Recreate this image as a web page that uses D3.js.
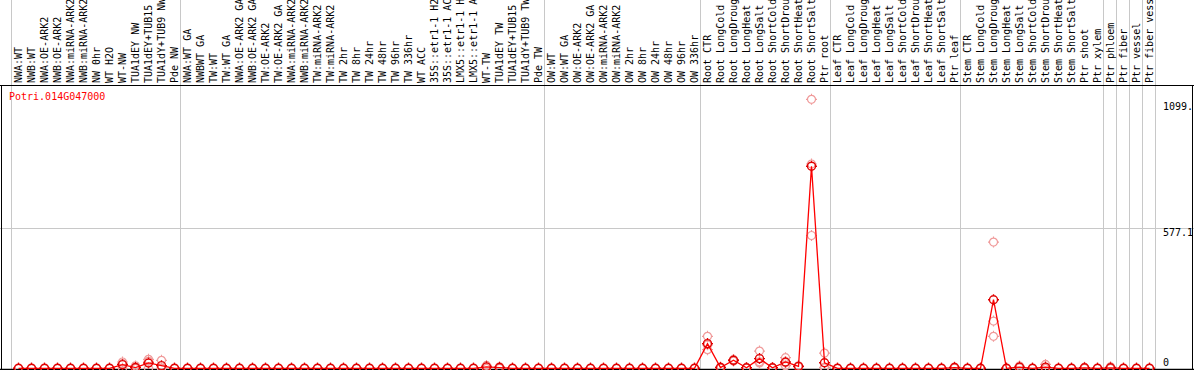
<!DOCTYPE html>
<html>
<head>
<meta charset="utf-8">
<script src="https://cdn.jsdelivr.net/npm/d3@7"></script>
<style>
  body { margin: 0; background: #fff; }
  svg { display: block; font-family: "DejaVu Sans Mono", monospace; }
</style>
</head>
<body>
<div id="plot"></div>
<script>
const geneId = "Potri.014G047000";

const labels = [
  "NWA:WT", "NWB:WT", "NWA:OE-ARK2", "NWB:OE-ARK2", "NWA:miRNA-ARK2", "NWB:miRNA-ARK2",
  "NW 0hr", "WT H2O", "WT-NW", "TUA1dEY NW", "TUA1dEY+TUB15 NW", "TUA1dY+TUB9 NW", "Pde NW",
  "NWA:WT GA", "NWBWT GA", "TW:WT", "TW:WT GA", "NWA:OE-ARK2 GA", "NWB:OE-ARK2 GA",
  "TW:OE-ARK2", "TW:OE-ARK2 GA", "NWA:miRNA-ARK2 GA", "NWB:miRNA-ARK2 GA", "TW:miRNA-ARK2",
  "TW:miRNA-ARK2 GA", "TW 2hr", "TW 8hr", "TW 24hr", "TW 48hr", "TW 96hr", "TW 336hr",
  "WT ACC", "35S::etr1-1 H2O", "35S::etr1-1 ACC", "LMX5::etr1-1 H2O", "LMX5::etr1-1 ACC",
  "WT-TW", "TUA1dEY TW", "TUA1dEY+TUB15 TW", "TUA1dY+TUB9 TW", "Pde TW",
  "OW:WT", "OW:WT GA", "OW:OE-ARK2", "OW:OE-ARK2 GA", "OW:miRNA-ARK2", "OW:miRNA-ARK2 GA",
  "OW 2hr", "OW 8hr", "OW 24hr", "OW 48hr", "OW 96hr", "OW 336hr",
  "Root CTR", "Root LongCold", "Root LongDrought", "Root LongHeat", "Root LongSalt",
  "Root ShortCold", "Root ShortDrought", "Root ShortHeat", "Root ShortSalt", "Ptr root",
  "Leaf CTR", "Leaf LongCold", "Leaf LongDrought", "Leaf LongHeat", "Leaf LongSalt",
  "Leaf ShortCold", "Leaf ShortDrought", "Leaf ShortHeat", "Leaf ShortSalt", "Ptr leaf",
  "Stem CTR", "Stem LongCold", "Stem LongDrought", "Stem LongHeat", "Stem LongSalt",
  "Stem ShortCold", "Stem ShortDrought", "Stem ShortHeat", "Stem ShortSalt", "Ptr shoot",
  "Ptr xylem", "Ptr phloem", "Ptr fiber", "Ptr vessel", "Ptr fiber vessel"
];

// number of samples in each block between the grey separators
const groupSizes = [13, 28, 12, 10, 10, 11, 1, 1, 1, 1];

// mean expression per sample
const means = [
  0, 0, 0, 0, 0, 0, 0, 0, 15, 3, 22, 11, 0,
  0, 0, 0, 0, 0, 0, 0, 0, 0, 0, 0, 0, 0, 0, 0, 0, 0, 0, 0, 0, 0, 0, 0, 6, 3, 0, 0, 0,
  0, 0, 0, 0, 0, 0, 0, 0, 0, 0, 0, 0,
  102, 3, 33, 2, 40, 2, 26, 8, 834, 23,
  0, 0, 0, 0, 0, 0, 0, 0, 0, 3,
  0, 0, 283, 0, 5, 0, 5, 0, 0, 2, 0,
  2, 0, 0, 0
];

// individual replicates
const rep1 = [
  0, 0, 0, 0, 0, 0, 0, 0, 26, 10, 37, 33, 0,
  0, 0, 0, 0, 0, 0, 0, 0, 0, 0, 0, 0, 0, 0, 0, 0, 0, 0, 0, 0, 0, 0, 0, 12, 6, 0, 0, 0,
  0, 0, 0, 0, 0, 0, 0, 0, 0, 0, 0, 0,
  132, 5, 36, 3, 71, 3, 44, 10, 1110, 63,
  0, 0, 0, 0, 0, 0, 0, 0, 0, 5,
  0, 0, 521, 0, 9, 0, 16, 0, 0, 4, 0,
  6, 0, 0, 0
];
const rep2 = [
  0, 0, 0, 0, 0, 0, 0, 0, 19, 0, 29, 0, 0,
  0, 0, 0, 0, 0, 0, 0, 0, 0, 0, 0, 0, 0, 0, 0, 0, 0, 0, 0, 0, 0, 0, 0, 6, 3, 0, 0, 0,
  0, 0, 0, 0, 0, 0, 0, 0, 0, 0, 0, 0,
  77, 3, 33, 2, 27, 2, 23, 8, 843, 4,
  0, 0, 0, 0, 0, 0, 0, 0, 0, 3,
  0, 0, 195, 0, 4, 0, 0, 0, 0, 2, 0,
  0, 0, 0, 0
];
const rep3 = [
  0, 0, 0, 0, 0, 0, 0, 0, 0, 0, 0, 0, 0,
  0, 0, 0, 0, 0, 0, 0, 0, 0, 0, 0, 0, 0, 0, 0, 0, 0, 0, 0, 0, 0, 0, 0, 0, 0, 0, 0, 0,
  0, 0, 0, 0, 0, 0, 0, 0, 0, 0, 0, 0,
  97, 1, 30, 1, 22, 1, 11, 6, 548, 2,
  0, 0, 0, 0, 0, 0, 0, 0, 0, 1,
  0, 0, 132, 0, 2, 0, 0, 0, 0, 0, 0,
  0, 0, 0, 0
];

const yTickValues = [1099, 577.1, 0];
const yTickLabels = ["1099.", "577.1", "0"];
const gridValues = [577.1];

function createPlot() {
    const width = 1194;
    const height = 370;
    const headerBottom = 85;
    const plotBottom = 369;

    const svg = d3.select("#plot")
        .append("svg")
        .attr("width", width)
        .attr("height", height)
        .attr("viewBox", [0, 0, width, height])
        .style("font-size", "10px");

    // one band per sample
    const x = d3.scaleBand()
        .domain(labels)
        .range([12, 12 + 13 * labels.length]);
    const cx = i => x(labels[i]) + x.bandwidth() / 2;

    const y = d3.scaleLinear()
        .domain([0, 1154.2])
        .range([368.3, 88.6]);

    // horizontal grid line
    svg.append("g")
        .selectAll("line")
        .data(gridValues)
        .join("line")
        .attr("x1", 0)
        .attr("x2", width)
        .attr("y1", d => Math.round(y(d)) + 0.5)
        .attr("y2", d => Math.round(y(d)) + 0.5)
        .attr("stroke", "#c8c8c8");

    // vertical separators between sample blocks
    const bounds = [0];
    groupSizes.reduce((acc, n) => { bounds.push(acc + n); return acc + n; }, 0);
    svg.append("g")
        .selectAll("line")
        .data(bounds)
        .join("line")
        .attr("x1", d => Math.round(12 + d * x.step()) - 0.5)
        .attr("x2", d => Math.round(12 + d * x.step()) - 0.5)
        .attr("y1", 0)
        .attr("y2", plotBottom)
        .attr("stroke", "#c8c8c8");

    // frame lines
    svg.append("line")
        .attr("x1", 0).attr("x2", width)
        .attr("y1", headerBottom + 0.5).attr("y2", headerBottom + 0.5)
        .attr("stroke", "#000");
    svg.append("line")
        .attr("x1", 0).attr("x2", width)
        .attr("y1", plotBottom + 0.5).attr("y2", plotBottom + 0.5)
        .attr("stroke", "#000").attr("stroke-width", 1.5);
    svg.append("line")
        .attr("x1", 1.5).attr("x2", 1.5)
        .attr("y1", headerBottom).attr("y2", height)
        .attr("stroke", "#000");
    svg.append("line")
        .attr("x1", width - 1.5).attr("x2", width - 1.5)
        .attr("y1", headerBottom).attr("y2", height)
        .attr("stroke", "#000");

    // rotated sample labels in the header
    svg.append("g")
        .selectAll("text")
        .data(labels)
        .join("text")
        .attr("transform", (d, i) => `translate(${cx(i) + 3.5},${headerBottom - 2}) rotate(-90)`)
        .attr("fill", "#000")
        .text(d => d);

    // gene id
    svg.append("text")
        .attr("x", 9)
        .attr("y", 100)
        .attr("fill", "#ff0000")
        .text(geneId);

    // right-hand value labels
    svg.append("g")
        .selectAll("text")
        .data(yTickValues)
        .join("text")
        .attr("x", 1163)
        .attr("y", d => Math.min(y(d) + 8, 366))
        .attr("fill", "#000")
        .text((d, i) => yTickLabels[i]);

    // circle marker with small ticks
    const marker = "M4,0A4,4 0 1,1 -4,0A4,4 0 1,1 4,0M0,-4V-5.5M0,4V5.5M-4,0H-5.5M4,0H5.5";

    // replicate markers
    const reps = [];
    [rep1, rep2, rep3].forEach(r => r.forEach((v, i) => reps.push([i, v])));
    svg.append("g")
        .attr("fill", "none")
        .attr("stroke", "#f09a9a")
        .attr("stroke-width", 1.2)
        .selectAll("path")
        .data(reps)
        .join("path")
        .attr("transform", d => `translate(${cx(d[0])},${y(d[1])})`)
        .attr("d", marker);

    // mean line
    const line = d3.line()
        .x((d, i) => cx(i))
        .y(d => y(d));
    svg.append("path")
        .datum(means)
        .attr("fill", "none")
        .attr("stroke", "#ff0000")
        .attr("stroke-width", 1.3)
        .attr("d", line);

    // mean markers
    svg.append("g")
        .attr("fill", "none")
        .attr("stroke", "#e00000")
        .attr("stroke-width", 1.4)
        .selectAll("path")
        .data(means)
        .join("path")
        .attr("transform", (d, i) => `translate(${cx(i)},${y(d)})`)
        .attr("d", marker);
}

createPlot();
</script>
</body>
</html>
